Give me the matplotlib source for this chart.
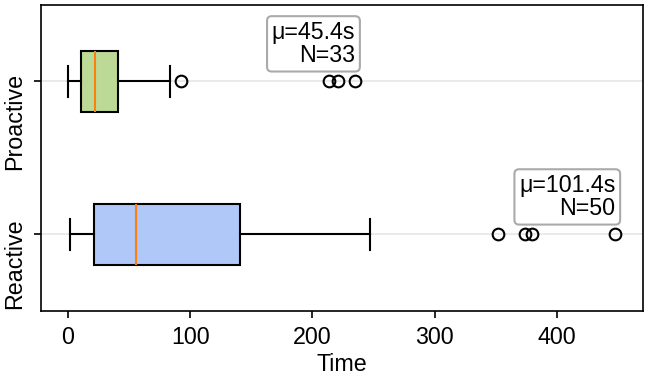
import matplotlib
matplotlib.use("Agg")
import matplotlib.pyplot as plt
import matplotlib.transforms as mtransforms

plt.rcParams['font.family'] = ['Liberation Sans', 'DejaVu Sans']
plt.rcParams['font.size'] = 11.2

# groups, bottom to top
labels = ["Reactive", "Proactive"]
colors = ["#b0c8f7", "#bcda96"]

# box statistics (seconds)
whislo = [1.9, 0.0]
q1 = [21.2, 10.6]
med = [55.5, 22.3]
q3 = [140.8, 40.5]
whishi = [247.4, 83.5]
fliers = [[352.2, 373.7, 379.3, 448.0], [92.4, 213.3, 220.6, 235.0]]
means = [101.4, 45.4]
counts = [50, 33]

stats = []
for i in range(len(labels)):
    stats.append({"label": labels[i], "whislo": whislo[i], "q1": q1[i], "med": med[i],
                  "q3": q3[i], "whishi": whishi[i], "fliers": fliers[i]})

fig, ax = plt.subplots(figsize=(650 / 150, 377 / 150), dpi=150)
fig.subplots_adjust(left=0.0626, right=0.989, bottom=0.175, top=0.987)

bp = ax.bxp(stats, positions=[1, 2], vert=False, widths=0.4, patch_artist=True,
            medianprops=dict(color="#ff7f0e", linewidth=1.0),
            flierprops=dict(marker="o", markerfacecolor="none", markeredgecolor="black", markersize=5.6))
for patch, c in zip(bp["boxes"], colors):
    patch.set_facecolor(c)
    patch.set_edgecolor("black")

ax.grid(axis="y", color="#e6e6e6", linewidth=0.8)
ax.set_axisbelow(True)
ax.set_yticks([1, 2])
ax.set_yticklabels(labels, rotation=90, va="top")
# the labels sit a little above their ticks in the original
shifts = [16, 9]
for lab, dy in zip(ax.get_yticklabels(), shifts):
    lab.set_transform(lab.get_transform() + mtransforms.ScaledTranslation(0, dy / 150, fig.dpi_scale_trans))
ax.set_xlabel("Time", labelpad=2)

for i in range(len(labels)):
    xmax = max(fliers[i])
    ax.annotate(f"μ={means[i]}s\nN={counts[i]}", xy=(xmax, i + 1), xytext=(0, 7),
                textcoords="offset points", ha="right", va="bottom", linespacing=1.0,
                bbox=dict(boxstyle="round,pad=0.2", facecolor="white", edgecolor="#aaaaaa"))

fig.savefig("out.png", dpi=150)
